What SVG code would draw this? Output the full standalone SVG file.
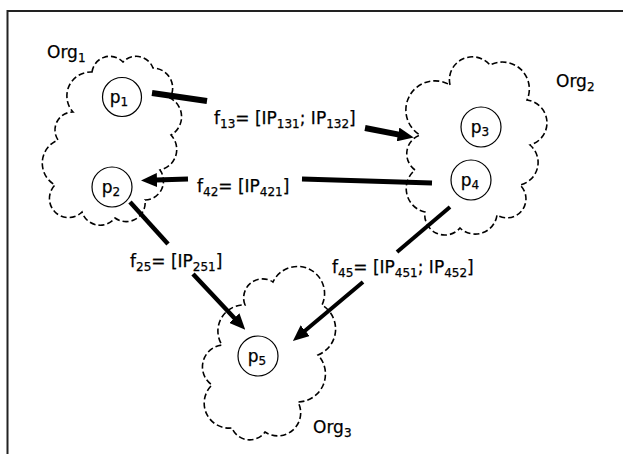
<svg xmlns="http://www.w3.org/2000/svg" width="623" height="454" viewBox="0 0 623 454">
  <style>
    .cloud { fill: none; stroke: #000; stroke-width: 1.6; stroke-dasharray: 6 3; }
    .proc { fill: #fff; stroke: #000; stroke-width: 1.2; }
    .lbl { font-family: "DejaVu Sans", "Liberation Sans", sans-serif; font-size: 17px; fill: #000; stroke: #000; stroke-width: 0.25; }
    .flow { stroke: #000; fill: none; stroke-linecap: butt; }
  </style>
  <defs>
    <marker id="head" viewBox="0 0 16 14" refX="1" refY="7" markerWidth="16" markerHeight="14" markerUnits="userSpaceOnUse" orient="auto">
      <path d="M0,0 L16,7 L0,14 z" fill="#000"/>
    </marker>
  </defs>

  <rect width="623" height="454" fill="#fff"/>
  <!-- outer frame, running off the right and bottom edges -->
  <rect x="7.5" y="11" width="640" height="470" fill="none" stroke="#222" stroke-width="2"/>

  <!-- organisation Org1 -->
  <g id="org1">
    <path class="cloud" d="M92,72 A18 18 0 0 1 123,62 A18 18 0 0 1 153,68 A20 20 0 0 1 170,98 A21 21 0 0 1 171,135 A21 21 0 0 1 160,170 A19 19 0 0 1 145,200 A19 19 0 0 1 115,218 A19 19 0 0 1 82,212 A19 19 0 0 1 55,185 A25 25 0 0 1 58,140 A18 18 0 0 1 73,112 A24 24 0 0 1 92,72 Z"/>
    <text class="lbl" x="47" y="58">Org<tspan dy="4" font-size="12">1</tspan></text>
  </g>
  <!-- organisation Org2 -->
  <g id="org2">
    <path class="cloud" d="M450,85 A23 23 0 0 1 490,65 A27 27 0 0 1 527,100 A23 23 0 0 1 530,145 A23 23 0 0 1 520,185 A19 19 0 0 1 497,215 A22 22 0 0 1 460,228 A20 20 0 0 1 425,212 A24 24 0 0 1 415,170 A20 20 0 0 1 420,135 A29 29 0 0 1 450,85 Z"/>
    <text class="lbl" x="556" y="87">Org<tspan dy="4" font-size="12">2</tspan></text>
  </g>
  <!-- organisation Org3 -->
  <g id="org3">
    <path class="cloud" d="M245,305 A19 19 0 0 1 273,282 A27 27 0 0 1 322,305 A28 28 0 0 1 318,355 A28 28 0 0 1 298,402 A23 23 0 0 1 265,432 A19 19 0 0 1 232,428 A25 25 0 0 1 212,385 A22 22 0 0 1 222,345 A26 26 0 0 1 245,305 Z"/>
    <text class="lbl" x="313" y="433">Org<tspan dy="4" font-size="12">3</tspan></text>
  </g>

  <!-- processes -->
  <g id="p1">
    <circle class="proc" cx="122" cy="97" r="19.5"/>
    <text class="lbl" x="119" y="103" text-anchor="middle" font-size="18">p<tspan dy="3" font-size="12">1</tspan></text>
  </g>
  <g id="p2">
    <circle class="proc" cx="112" cy="187" r="20"/>
    <text class="lbl" x="111" y="193" text-anchor="middle" font-size="18">p<tspan dy="3" font-size="12">2</tspan></text>
  </g>
  <g id="p3">
    <circle class="proc" cx="481" cy="127" r="20"/>
    <text class="lbl" x="480" y="133" text-anchor="middle" font-size="18">p<tspan dy="3" font-size="12">3</tspan></text>
  </g>
  <g id="p4">
    <circle class="proc" cx="471" cy="180" r="20"/>
    <text class="lbl" x="470" y="186" text-anchor="middle" font-size="18">p<tspan dy="3" font-size="12">4</tspan></text>
  </g>
  <g id="p5">
    <circle class="proc" cx="258" cy="356" r="20"/>
    <text class="lbl" x="257" y="362" text-anchor="middle" font-size="18">p<tspan dy="3" font-size="12">5</tspan></text>
  </g>

  <!-- information flows between processes -->
  <g id="connectors">
    <!-- f13: p1 -> p3 -->
    <line class="flow" x1="152" y1="93" x2="207" y2="101" stroke-width="6"/>
    <line class="flow" x1="365" y1="128" x2="399" y2="134.6" stroke-width="6" marker-end="url(#head)"/>
    <!-- f42: p4 -> p2 -->
    <line class="flow" x1="432" y1="183" x2="302" y2="179" stroke-width="5"/>
    <line class="flow" x1="188" y1="179" x2="156" y2="180" stroke-width="5" marker-end="url(#head)"/>
    <!-- f25: p2 -> p5 -->
    <line class="flow" x1="130" y1="202" x2="168" y2="244" stroke-width="4.5"/>
    <line class="flow" x1="193" y1="274" x2="235" y2="318.8" stroke-width="4.5" marker-end="url(#head)"/>
    <!-- f45: p4 -> p5 -->
    <line class="flow" x1="450" y1="207" x2="397" y2="252" stroke-width="4"/>
    <line class="flow" x1="363" y1="282" x2="304.4" y2="331.3" stroke-width="4" marker-end="url(#head)"/>

    <text class="lbl" x="214" y="124">f<tspan dy="4" font-size="12">13</tspan><tspan dy="-4">= [IP</tspan><tspan dy="4" font-size="12">131</tspan><tspan dy="-4">; IP</tspan><tspan dy="4" font-size="12">132</tspan><tspan dy="-4">]</tspan></text>
    <text class="lbl" x="197" y="192">f<tspan dy="4" font-size="12">42</tspan><tspan dy="-4">= [IP</tspan><tspan dy="4" font-size="12">421</tspan><tspan dy="-4">]</tspan></text>
    <text class="lbl" x="130" y="267">f<tspan dy="4" font-size="12">25</tspan><tspan dy="-4">= [IP</tspan><tspan dy="4" font-size="12">251</tspan><tspan dy="-4">]</tspan></text>
    <text class="lbl" x="332" y="273">f<tspan dy="4" font-size="12">45</tspan><tspan dy="-4">= [IP</tspan><tspan dy="4" font-size="12">451</tspan><tspan dy="-4">; IP</tspan><tspan dy="4" font-size="12">452</tspan><tspan dy="-4">]</tspan></text>
  </g>
</svg>
